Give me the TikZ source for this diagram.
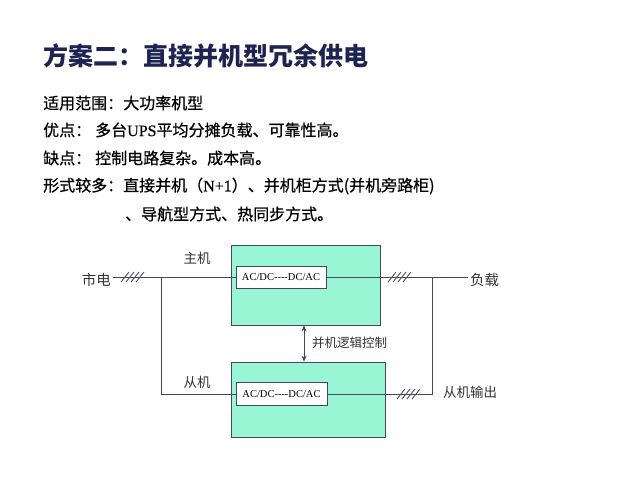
\documentclass[tikz,border=0pt]{standalone}
\usepackage{fontspec}
\setmainfont{Noto Sans CJK SC}
\newfontfamily\latinserif{Liberation Serif}
\newfontfamily\bodyfont[FakeBold=0.6]{Noto Sans CJK SC}
\newfontfamily\bodyserif[FakeBold=0.6]{Liberation Serif}
\usetikzlibrary{arrows.meta,positioning}

\definecolor{titleblue}{RGB}{30,36,82}
\definecolor{upsgreen}{RGB}{152,246,212}
\definecolor{wire}{RGB}{70,70,95}

\tikzset{
  upsbox/.style={draw=wire,fill=upsgreen,line width=0.8pt},
  convbox/.style={draw=wire,fill=white,line width=0.8pt,font=\latinserif\fontsize{10.5}{12}\selectfont,inner sep=0pt},
  wireline/.style={draw=wire,line width=0.8pt},
  lbl/.style={font=\fontsize{13.5}{15}\selectfont,text=black!80,inner sep=0pt},
  bodytext/.style={anchor=west,font=\bodyfont\fontsize{16}{18}\selectfont,inner sep=0pt}
}

\begin{document}
\begin{tikzpicture}[x=1pt,y=-1pt]
\useasboundingbox[fill=white] (0,0) rectangle (640,480);

% title and text
\node[bodytext,font=\bfseries\fontsize{25}{28}\selectfont,text=titleblue] (title) at (43,56) {方案二：直接并机型冗余供电};
\node[bodytext] (range) at (43,103) {适用范围：大功率机型};
\node[bodytext] (proL) at (43,130) {优点：};
\node[bodytext] (pro) at (95,130) {多台{\bodyserif UPS}平均分摊负载、可靠性高。};
\node[bodytext] (conL) at (43,158) {缺点：};
\node[bodytext] (con) at (95,158) {控制电路复杂。成本高。};
\node[bodytext] (forms) at (43,186) {形式较多：直接并机（{\bodyserif N+1}）、并机柜方式(并机旁路柜)};
\node[bodytext] (forms2) at (125,214) {、导航型方式、热同步方式。};

% boxes
\node[upsbox,minimum width=149pt,minimum height=80pt] (master) at (305.5,285) {};
\node[upsbox,minimum width=154pt,minimum height=75pt] (slave) at (308,399.5) {};
\node[convbox,minimum width=90pt,minimum height=22pt] (mconv) at (281,277) {AC/DC----DC/AC};
\node[convbox,minimum width=91pt,minimum height=23pt] (sconv) at (281.5,394) {AC/DC----DC/AC};

% labels
\node[lbl,anchor=east,font=\fontsize{14.5}{16}\selectfont] (mains) at (111,280) {市电};
\node[lbl,anchor=west,font=\fontsize{14.5}{16}\selectfont] (load) at (470,280) {负载};
\node[lbl] (masterlbl) at (197,258) {主机};
\node[lbl] (slavelbl) at (197,382) {从机};
\node[lbl,anchor=west] (slaveout) at (443,392) {从机输出};
\node[lbl,anchor=west,font=\fontsize{12.5}{14}\selectfont] (logic) at (312,343) {并机逻辑控制};

\coordinate (in) at (113,277);
\coordinate (split) at (161,277);
\coordinate (join) at (432,277);
\coordinate (out) at (468,277);

% wiring
\draw[wireline] (in) -- (mconv.west);
\draw[wireline] (split) |- (sconv.west);
\draw[wireline] (mconv.east) -- (out);
\draw[wireline] (sconv.east) -| (join);
\draw[wireline,{Stealth[length=6pt,width=5pt]}-{Stealth[length=6pt,width=5pt]}] (master.south -| 304,0) -- (slave.north -| 304,0);

% hatches
\foreach \x in {125,130,135,140} \draw[wireline] (\x-4,282) -- (\x+4,272);
\foreach \x in {392,397,402,407} \draw[wireline] (\x-4,282) -- (\x+4,272);
\foreach \x in {401,406,411,416} \draw[wireline] (\x-4,399) -- (\x+4,389);
\end{tikzpicture}
\end{document}
